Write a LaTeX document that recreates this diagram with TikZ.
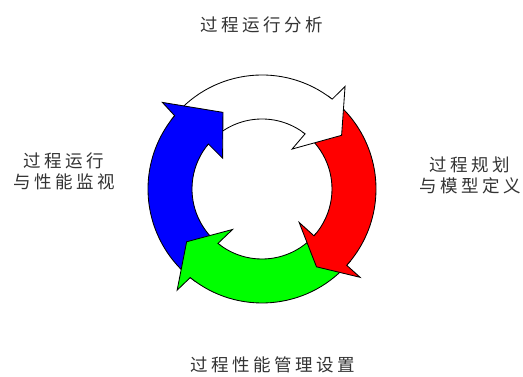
\documentclass[tikz,border=0pt]{standalone}
\usepackage{fontspec}
\newfontfamily\cjk{Noto Sans CJK SC}[LetterSpace=20]
\definecolor{txtgray}{HTML}{333333}
\definecolor{arrblue}{RGB}{0,0,255}
\definecolor{arrred}{RGB}{255,0,0}
\definecolor{arrgreen}{RGB}{0,255,0}
\tikzset{
  lbl/.style={font=\cjk\fontsize{17.5}{21}\selectfont, text=txtgray, align=center, inner sep=0pt},
  edge/.style={draw=black, line width=0.85pt, line join=miter},
}
% body: #1 color, #2 tail angle, #3 base angle
\newcommand{\arrbody}[3]{%
  \fill[#1] (#2:114) arc[start angle=#2, end angle=#3, radius=114] -- (#3:70)
     arc[start angle=#3, end angle=#2, radius=70] -- cycle;
  \draw[edge] (#2:114) arc[start angle=#2, end angle=#3, radius=114];
  \draw[edge] (#2:70) arc[start angle=#2, end angle=#3, radius=70];
}
% head: #1 color, #2 base angle, #3 outer barb angle, #4 tip angle, #5 tip radius, #6 inner barb angle
\newcommand{\arrhead}[6]{%
  \pgfmathsetmacro{\backang}{#2+3}%
  \fill[#1] (\backang:114) arc[start angle=\backang, end angle=#2, radius=114]
     -- (#3:132) -- (#4:#5) -- (#6:50) -- (#2:70)
     arc[start angle=#2, end angle=\backang, radius=70] -- cycle;
  \draw[edge] (\backang:114) arc[start angle=\backang, end angle=#2, radius=114]
     -- (#3:132) -- (#4:#5) -- (#6:50) -- (#2:70)
     arc[start angle=#2, end angle=\backang, radius=70];
}
\begin{document}
\begin{tikzpicture}[x=1pt,y=1pt]
\useasboundingbox (0,0) rectangle (523,377);
\fill[white] (0,0) rectangle (523,377);
\coordinate (c) at (262,188);
\begin{scope}[shift={(c)}]
  \arrbody{white}{140}{52}
  \arrbody{arrred}{52}{-42}
  \arrbody{arrgreen}{-42}{-129}
  \arrbody{arrblue}{-129}{-220}
  \arrhead{white}{52}{51}{34}{96}{53}
  \arrhead{arrred}{-42}{-42}{-55}{95}{-42}
  \arrhead{arrgreen}{-129}{-130}{-145}{92}{-126}
  \arrhead{arrblue}{-220}{-221}{-243}{86}{-218}
\end{scope}
\node[lbl] (top) at (262,352) {过程运行分析};
\node[lbl] (left) at (64,206) {过程运行\\与性能监视};
\node[lbl] (right) at (470,202) {过程规划\\与模型定义};
\node[lbl] (bottom) at (273,12) {过程性能管理设置};
\end{tikzpicture}
\end{document}
